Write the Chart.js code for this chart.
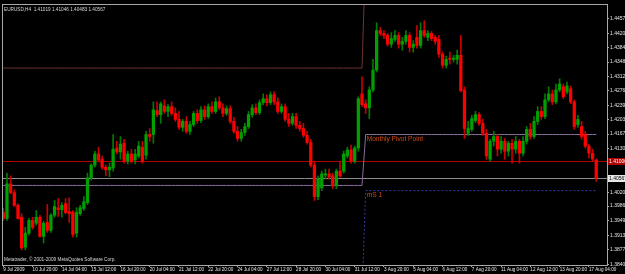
<!DOCTYPE html>
<html><head><meta charset="utf-8">
<script src="https://cdn.jsdelivr.net/npm/chart.js@4.4.1/dist/chart.umd.min.js"></script>
<style>html,body{margin:0;padding:0;background:#000;overflow:hidden}canvas{display:block}</style>
</head><body>
<canvas id="c" width="625" height="274"></canvas>
<script>
const symbol = 'EURUSD,H4';
const copyright = 'Metatrader, \u00a9 2001-2009 MetaQuotes Software Corp.';

const opens = [1.3970,1.3955,1.4042,1.4020,1.3988,1.3958,1.3883,1.3918,1.3950,1.3943,
1.3958,1.3910,1.3945,1.3925,1.3963,1.3982,1.3977,1.3992,1.3972,1.3970,
1.3918,1.3967,1.3980,1.3995,1.4057,1.4089,1.4117,1.4104,1.4084,1.4077,
1.4082,1.4132,1.4122,1.4144,1.4099,1.4117,1.4102,1.4112,1.4134,1.4114,
1.4166,1.4166,1.4226,1.4216,1.4238,1.4224,1.4236,1.4219,1.4204,1.4184,
1.4199,1.4174,1.4191,1.4219,1.4201,1.4228,1.4211,1.4236,1.4224,1.4248,
1.4233,1.4219,1.4231,1.4199,1.4174,1.4156,1.4171,1.4186,1.4216,1.4233,
1.4221,1.4246,1.4256,1.4246,1.4266,1.4248,1.4224,1.4236,1.4204,1.4194,
1.4211,1.4189,1.4181,1.4164,1.4146,1.4089,1.4010,1.4032,1.4064,1.4067,
1.4062,1.4037,1.4074,1.4074,1.4112,1.4127,1.4099,1.4132,1.4268,1.4243,
1.4233,1.4278,1.4328,1.4427,1.4420,1.4415,1.4393,1.4405,1.4415,1.4393,
1.4400,1.4415,1.4385,1.4410,1.4390,1.4427,1.4410,1.4420,1.4410,1.4405,
1.4368,1.4340,1.4358,1.4355,1.4355,1.4365,1.4278,1.4169,1.4179,1.4201,
1.4216,1.4194,1.4169,1.4104,1.4149,1.4161,1.4129,1.4149,1.4124,1.4144,
1.4129,1.4149,1.4119,1.4149,1.4179,1.4161,1.4199,1.4224,1.4211,1.4253,
1.4268,1.4248,1.4278,1.4286,1.4273,1.4281,1.4248,1.4191,1.4186,1.4166,
1.4137,1.4119,1.41019];
const highs = [1.3980,1.4069,1.4062,1.4027,1.3992,1.3967,1.3933,1.3955,1.3958,1.3975,
1.3963,1.3948,1.3990,1.3967,1.4000,1.4005,1.3995,1.4005,1.4007,1.3975,
1.3982,1.3988,1.4010,1.4069,1.4092,1.4124,1.4134,1.4112,1.4089,1.4094,
1.4166,1.4149,1.4161,1.4154,1.4124,1.4129,1.4129,1.4149,1.4149,1.4174,
1.4181,1.4248,1.4248,1.4248,1.4253,1.4241,1.4248,1.4233,1.4224,1.4204,
1.4211,1.4199,1.4224,1.4228,1.4236,1.4238,1.4243,1.4248,1.4258,1.4261,
1.4243,1.4238,1.4238,1.4209,1.4186,1.4179,1.4194,1.4224,1.4241,1.4243,
1.4253,1.4268,1.4266,1.4273,1.4273,1.4258,1.4243,1.4243,1.4219,1.4219,
1.4219,1.4199,1.4194,1.4174,1.4154,1.4099,1.4062,1.4074,1.4079,1.4079,
1.4069,1.4079,1.4099,1.4124,1.4134,1.4139,1.4137,1.4261,1.4311,1.4253,
1.4286,1.4355,1.4447,1.4435,1.4427,1.4420,1.4422,1.4427,1.4422,1.4410,
1.4427,1.4422,1.4402,1.4440,1.4447,1.4452,1.4427,1.4425,1.4415,1.4415,
1.4373,1.4363,1.4373,1.4365,1.4378,1.4415,1.4286,1.4199,1.4214,1.4224,
1.4221,1.4204,1.4179,1.4154,1.4174,1.4166,1.4161,1.4156,1.4149,1.4154,
1.4161,1.4154,1.4161,1.4186,1.4194,1.4211,1.4236,1.4236,1.4268,1.4286,
1.4278,1.4293,1.4306,1.4293,1.4298,1.4288,1.4253,1.4214,1.4199,1.4174,
1.4142,1.4129,1.41046];
const lows = [1.3950,1.3950,1.4017,1.3985,1.3953,1.3876,1.3876,1.3913,1.3928,1.3938,
1.3908,1.3893,1.3920,1.3920,1.3958,1.3960,1.3958,1.3967,1.3945,1.3908,
1.3908,1.3963,1.3975,1.3990,1.4052,1.4084,1.4097,1.4079,1.4062,1.4060,
1.4074,1.4117,1.4104,1.4094,1.4092,1.4094,1.4092,1.4107,1.4094,1.4104,
1.4149,1.4144,1.4211,1.4194,1.4219,1.4211,1.4214,1.4199,1.4179,1.4174,
1.4169,1.4166,1.4186,1.4194,1.4196,1.4204,1.4206,1.4219,1.4219,1.4228,
1.4211,1.4214,1.4194,1.4169,1.4149,1.4149,1.4164,1.4181,1.4209,1.4216,
1.4216,1.4241,1.4238,1.4241,1.4241,1.4219,1.4219,1.4199,1.4186,1.4189,
1.4181,1.4174,1.4159,1.4142,1.4084,1.4000,1.4002,1.4025,1.4054,1.4054,
1.4030,1.4030,1.4059,1.4069,1.4107,1.4094,1.4094,1.4124,1.4236,1.4219,
1.4206,1.4273,1.4323,1.4415,1.4407,1.4388,1.4385,1.4400,1.4383,1.4378,
1.4393,1.4373,1.4373,1.4383,1.4383,1.4410,1.4402,1.4402,1.4393,1.4360,
1.4333,1.4333,1.4343,1.4348,1.4343,1.4273,1.4156,1.4164,1.4174,1.4196,
1.4189,1.4164,1.4104,1.4099,1.4137,1.4112,1.4119,1.4104,1.4112,1.4094,
1.4119,1.4094,1.4112,1.4142,1.4154,1.4156,1.4191,1.4204,1.4206,1.4248,
1.4241,1.4243,1.4273,1.4256,1.4268,1.4243,1.4179,1.4184,1.4154,1.4132,
1.4107,1.4099,1.40483];
const closes = [1.3955,1.4042,1.4020,1.3988,1.3955,1.3881,1.3918,1.3950,1.3933,1.3958,
1.3910,1.3943,1.3925,1.3963,1.3985,1.3977,1.3988,1.3970,1.3967,1.3915,
1.3970,1.3982,1.3997,1.4057,1.4089,1.4117,1.4102,1.4084,1.4077,1.4084,
1.4129,1.4122,1.4142,1.4099,1.4117,1.4099,1.4117,1.4137,1.4099,1.4166,
1.4161,1.4228,1.4216,1.4243,1.4224,1.4236,1.4219,1.4204,1.4184,1.4199,
1.4174,1.4191,1.4219,1.4201,1.4228,1.4211,1.4236,1.4224,1.4248,1.4233,
1.4219,1.4231,1.4199,1.4174,1.4156,1.4171,1.4186,1.4216,1.4233,1.4221,
1.4246,1.4256,1.4246,1.4266,1.4248,1.4224,1.4236,1.4204,1.4194,1.4211,
1.4189,1.4181,1.4164,1.4146,1.4089,1.4010,1.4054,1.4067,1.4067,1.4059,
1.4037,1.4074,1.4062,1.4117,1.4127,1.4099,1.4132,1.4256,1.4241,1.4233,
1.4278,1.4328,1.4427,1.4420,1.4415,1.4393,1.4407,1.4415,1.4393,1.4400,
1.4415,1.4385,1.4393,1.4390,1.4427,1.4415,1.4420,1.4407,1.4400,1.4368,
1.4340,1.4355,1.4355,1.4358,1.4365,1.4276,1.4181,1.4181,1.4206,1.4216,
1.4194,1.4169,1.4112,1.4149,1.4161,1.4129,1.4149,1.4124,1.4144,1.4129,
1.4149,1.4119,1.4149,1.4179,1.4161,1.4199,1.4224,1.4211,1.4253,1.4268,
1.4248,1.4278,1.4293,1.4261,1.4288,1.4248,1.4186,1.4204,1.4161,1.4137,
1.4119,1.4104,1.40567];

const xTickLabels = ['9 Jul 2009','10 Jul 20:00','14 Jul 04:00','15 Jul 12:00','16 Jul 20:00',
'20 Jul 04:00','21 Jul 12:00','22 Jul 20:00','24 Jul 04:00','27 Jul 12:00','28 Jul 20:00',
'30 Jul 04:00','31 Jul 12:00','3 Aug 20:00','5 Aug 04:00','6 Aug 12:00','7 Aug 20:00',
'11 Aug 04:00','12 Aug 12:00','13 Aug 20:00','17 Aug 04:00'];
const barsPerXLabel = 8;
const yTickLabels = ['1.44570','1.44200','1.43840','1.43480','1.43120','1.42760','1.42390','1.42030',
'1.41670','1.41300','1.40940','1.40580','1.40200','1.39860','1.39490','1.39130','1.38770','1.38400'];

// monthly pivot levels: [July, August]; August starts at bar index 99
const monthStartIndex = [0, 99];
const monthlyR1 = [1.4333, 1.4620];
const monthlyPivot = [1.4038, 1.4166];
const monthlyS1 = [1.3760, 1.4025];
const pivotLabel = 'Monthly Pivot Point';
const s1Label = 'mS 1';
const hLineLevel = 1.4100;
const hLineText = '1.41000';

const lastBar = opens.length - 1;
const isBull = i => closes[i] >= opens[i];
const monthOf = i => { let m = 0; monthStartIndex.forEach((s, k) => { if (i >= s) m = k; }); return m; };
const levelData = arr => opens.map((_, i) => ({x: i, y: arr[monthOf(i)]}));
const FONT = '"Liberation Sans", Arial, sans-serif';
const fmt = v => v.toFixed(5);

const overlay = {
  id: 'overlay',
  beforeDatasetsDraw(chart) {
    const {ctx, chartArea: a, scales: {y}} = chart;
    ctx.save();
    const hl = (v, col) => {
      const py = Math.round(y.getPixelForValue(v)) + 0.5;
      ctx.strokeStyle = col; ctx.lineWidth = 1;
      ctx.beginPath(); ctx.moveTo(a.left, py); ctx.lineTo(a.right, py); ctx.stroke();
    };
    hl(hLineLevel, '#b00000');
    hl(closes[lastBar], '#8c8c8c');
    ctx.restore();
  },
  afterDraw(chart) {
    const {ctx, chartArea: a, scales: {x, y}} = chart;
    ctx.save();
    ctx.strokeStyle = '#a8a8a8'; ctx.lineWidth = 1;
    ctx.strokeRect(a.left + 0.5, a.top + 0.5, a.right - a.left, a.bottom - a.top);
    ctx.fillStyle = '#d8d8d8';
    ctx.font = '4.7px ' + FONT;
    ctx.textBaseline = 'top'; ctx.textAlign = 'left';
    ctx.fillText(symbol + '  ' + [opens[lastBar], highs[lastBar], lows[lastBar], closes[lastBar]].map(fmt).join(' '), a.left + 2, a.top + 3);
    ctx.fillText(copyright, a.left + 2, a.bottom - 8);
    ctx.fillStyle = '#d24a12';
    ctx.font = '6.6px ' + FONT;
    const px = x.getPixelForValue(monthStartIndex[1]) + 1;
    ctx.fillText(pivotLabel, px, y.getPixelForValue(monthlyPivot[1]) + 1);
    ctx.fillText(s1Label, px, y.getPixelForValue(monthlyS1[1]) + 1);
    const box = (v, bg, fg, txt) => {
      const py = y.getPixelForValue(v);
      ctx.fillStyle = bg; ctx.fillRect(a.right + 1, Math.round(py) - 3, 18, 7);
      ctx.fillStyle = fg; ctx.font = '5px ' + FONT; ctx.textBaseline = 'middle';
      ctx.fillText(txt, a.right + 2, Math.round(py) + 0.5);
    };
    box(hLineLevel, '#b00000', '#ffffff', hLineText);
    box(closes[lastBar], '#e8e8e8', '#000000', fmt(closes[lastBar]));
    ctx.restore();
  }
};

new Chart(document.getElementById('c'), {
  type: 'bar',
  data: {
    datasets: [
      {type: 'line', data: levelData(monthlyR1), borderColor: '#6e3434', borderWidth: 1, pointRadius: 0, order: 10},
      {type: 'line', data: levelData(monthlyPivot), borderColor: '#8a6c9c', borderWidth: 1, pointRadius: 0, order: 10},
      {type: 'line', data: levelData(monthlyS1), borderColor: '#3a3aaa', borderWidth: 1, borderDash: [2, 2], pointRadius: 0, order: 10},
      {data: opens.map((_, i) => ({x: i, y: [lows[i], highs[i]]})), backgroundColor: opens.map((_, i) => isBull(i) ? '#007c00' : '#c80000'),
       barThickness: 1, grouped: false, borderWidth: 0, order: 2},
      {data: opens.map((o, i) => ({x: i, y: [o, closes[i]]})), backgroundColor: opens.map((_, i) => isBull(i) ? '#00a000' : '#ff0000'),
       barThickness: 2.6, grouped: false, borderWidth: 0, minBarLength: 1, order: 1}
    ]
  },
  options: {
    responsive: false, animation: false, devicePixelRatio: 1,
    layout: {padding: {left: 2, top: 1, right: 0, bottom: 0}},
    plugins: {legend: {display: false}, tooltip: {enabled: false}},
    scales: {
      x: {
        type: 'linear', min: -0.36, max: 164.94, offset: false,
        afterFit(s) { s.height = 9; },
        afterBuildTicks(s) { s.ticks = xTickLabels.map((_, k) => ({value: k * barsPerXLabel})); },
        ticks: {autoSkip: false, maxRotation: 0, align: 'start', color: '#e6e6e6', padding: 0,
                font: {size: 4.6, family: FONT}, callback: (v, idx) => xTickLabels[idx]},
        grid: {drawOnChartArea: false, offset: false, tickLength: 2, color: '#a8a8a8'},
        border: {display: false}
      },
      y: {
        type: 'linear', position: 'right', min: 1.3838, max: 1.4494,
        afterFit(s) { s.width = 18; },
        afterBuildTicks(s) { s.ticks = yTickLabels.map(t => ({value: parseFloat(t)})); },
        ticks: {autoSkip: false, color: '#e6e6e6', padding: 1, font: {size: 5, family: FONT},
                callback: (v, idx) => yTickLabels[idx]},
        grid: {drawOnChartArea: false, tickLength: 2, color: '#a8a8a8'},
        border: {display: false}
      }
    }
  },
  plugins: [overlay]
});
</script>
</body></html>
